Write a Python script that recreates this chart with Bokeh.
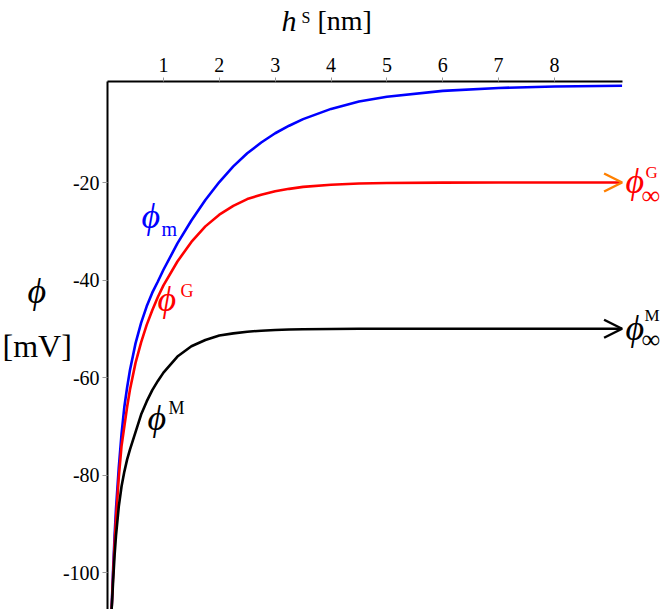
from bokeh.plotting import figure
from bokeh.models import Range1d, FixedTicker, Label, Arrow, OpenHead
from bokeh.embed import file_html
from bokeh.resources import INLINE

# ---- data ----
h_nm = [0.07, 0.08, 0.10, 0.125, 0.15, 0.2, 0.25, 0.3, 0.35, 0.4, 0.5, 0.6, 0.7, 0.8, 0.9, 1.0,
        1.25, 1.5, 1.75, 2.0, 2.25, 2.5, 2.75, 3.0, 3.25, 3.5, 4.0, 4.5, 5.0, 6.0, 7.0, 8.0, 9.21]
phi_m = [-108, -105, -99, -92.5, -87, -78.5, -71.5, -66, -62, -58.5, -53, -48.8, -45.4, -42.6, -40.3, -37.9,
         -32.5, -27.8, -23.6, -19.9, -16.7, -14.0, -11.8, -9.9, -8.35, -7.0, -4.9, -3.4, -2.4, -1.2, -0.6, -0.3, -0.15]
phi_G = [-108, -105.5, -100, -94, -89, -80.5, -74, -70, -66, -62.5, -57, -52.8, -49.2, -46.2, -43.5, -41.1,
         -36.2, -32.2, -29.0, -26.6, -24.8, -23.4, -22.5, -21.8, -21.3, -20.9, -20.45, -20.2, -20.1, -20.03, -20.0, -20.0, -20.0]
phi_M = [-108, -106, -101.5, -96.5, -92.5, -86.5, -82.3, -79.3, -76.8, -74.8, -71.2, -67.6, -64.9, -62.6, -60.7, -59,
         -55.7, -53.6, -52.3, -51.4, -50.95, -50.6, -50.4, -50.25, -50.15, -50.1, -50.04, -50.0, -50.0, -50.0, -50.0, -50.0, -50.0]
phi_G_inf = -20
phi_M_inf = -50
h_max = 9.21
phi_top = 0.72
x_ticks = [1, 2, 3, 4, 5, 6, 7, 8]
y_ticks = [-100, -80, -60, -40, -20]

# ---- layout (pixel -> data mapping of the whole canvas) ----
W, H = 666, 609
FONT = "Liberation Serif"


def fx(xp):
    return (xp - 107.1) / 55.86


def fy(yp):
    return -(yp - 84.5) / 4.875


p = figure(width=W, height=H,
           x_range=Range1d(fx(0), fx(W)), y_range=Range1d(fy(H), fy(0)),
           x_axis_location="above", y_axis_location="left",
           output_backend="svg", toolbar_location=None,
           min_border_left=0, min_border_top=0, min_border_right=0, min_border_bottom=0)
p.outline_line_color = None
p.xgrid.visible = False
p.ygrid.visible = False
p.background_fill_color = "white"
p.border_fill_color = "white"

xa = p.xaxis[0]
ya = p.yaxis[0]
xa.fixed_location = phi_top
xa.bounds = (0, h_max)
ya.fixed_location = 0
ya.bounds = (fy(H), phi_top)

for ax in (xa, ya):
    ax.axis_line_color = "black"
    ax.axis_line_width = 2
    ax.major_tick_line_color = "#999999"
    ax.major_tick_line_width = 1
    ax.major_tick_in = 0
    ax.minor_tick_line_color = None
    ax.major_label_text_font = FONT
    ax.major_label_text_font_size = "20px"
    ax.major_label_text_color = "black"

xa.ticker = FixedTicker(ticks=x_ticks)
ya.ticker = FixedTicker(ticks=y_ticks)
ya.major_label_overrides = {t: "-" + str(abs(t)) for t in y_ticks}
xa.major_tick_out = 4
xa.major_label_standoff = 5
ya.major_tick_out = 5
ya.major_label_standoff = 3

# ---- curves ----
p.line(h_nm, phi_m, line_color="#0000ff", line_width=2.6)
p.line(h_nm, phi_G, line_color="#ff0000", line_width=2.6)
p.line(h_nm, phi_M, line_color="black", line_width=2.6)

p.add_layout(Arrow(end=OpenHead(size=18, line_color="#ff8000", line_width=2.5),
                   x_start=h_nm[-2], y_start=phi_G_inf, x_end=h_nm[-1], y_end=phi_G_inf,
                   line_alpha=0))
p.add_layout(Arrow(end=OpenHead(size=18, line_color="black", line_width=2.5),
                   x_start=h_nm[-2], y_start=phi_M_inf, x_end=h_nm[-1], y_end=phi_M_inf,
                   line_alpha=0))


def lab(text, xp, base, size, color="black", style="normal"):
    # place by baseline (pixels); label drawn with middle baseline
    p.add_layout(Label(x=fx(xp), y=fy(base - 0.34 * size), text=text, text_font=FONT,
                       text_font_size=f"{size}px", text_color=color,
                       text_font_style=style, text_align="left",
                       text_baseline="middle"))


PHI = "\u03d5"
INF = "\u221e"
# axis titles
lab("h", 281, 30, 30, style="italic")
lab("S", 301, 22, 16)
lab("[nm]", 317, 30, 28)
lab(PHI, 27, 303, 36, style="italic")
lab("[mV]", 2, 356, 32)

# curve labels
lab(PHI, 141, 228, 36, "#0000ff", "italic")
lab("m", 161, 235, 20, "#0000ff")
lab(PHI, 157, 311, 36, "#ff0000", "italic")
lab("G", 180, 297, 18, "#ff0000")
lab(PHI, 147, 430, 36, "black", "italic")
lab("M", 168, 414, 18, "black")

# asymptote labels
lab(PHI, 625, 193, 36, "#ff0000", "italic")
lab("G", 645, 178, 17, "#ff0000")
lab(INF, 641, 204, 26, "#ff0000")
lab(PHI, 625, 340, 36, "black", "italic")
lab("M", 644, 321, 17, "black")
lab(INF, 641, 348, 26, "black")

open("out.html", "w").write(file_html(p, INLINE))
